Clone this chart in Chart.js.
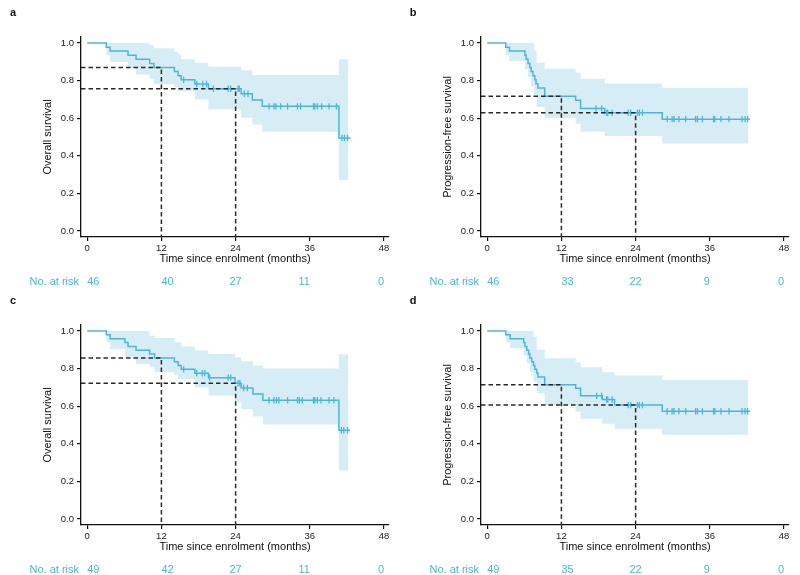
<!DOCTYPE html>
<html>
<head>
<meta charset="utf-8">
<script src="https://cdn.jsdelivr.net/npm/chart.js@4.4.1/dist/chart.umd.min.js"></script>
<style>
  body { margin: 0; background: #fff; }
  #grid { display: flex; flex-wrap: wrap; width: 800px; }
  canvas { display: block; }
</style>
</head>
<body>
<div id="grid">
  <canvas id="panelA" width="400" height="288"></canvas>
  <canvas id="panelB" width="400" height="288"></canvas>
  <canvas id="panelC" width="400" height="287"></canvas>
  <canvas id="panelD" width="400" height="287"></canvas>
</div>
<script>
// shared axes
var timeTicks = [0, 12, 24, 36, 48];
var survTicks = [0, 0.2, 0.4, 0.6, 0.8, 1.0];
var landmarkTimes = [12, 24];
var riskTimes = [0, 12, 24, 36, 48];

// a - overall survival
var timesA = [0, 3.1, 3.7, 6.6, 7.9, 10.1, 10.8, 14.1, 14.7, 15.2, 17.4, 19.6, 24.9, 26.7, 28.3, 40.7, 42.6];
var survA = [1, 0.978, 0.957, 0.935, 0.913, 0.891, 0.870, 0.848, 0.826, 0.804, 0.782, 0.757, 0.730, 0.697, 0.663, 0.495, 0.495];
var censorA = [15.6, 17.7, 18.7, 19.3, 20.4, 22.8, 23.2, 24.4, 24.6, 25.4, 26.0, 29.4, 30.2, 30.5, 31.3, 32.4, 34.0, 34.5, 36.6, 36.8, 37.2, 37.9, 39.1, 40.3, 41.2, 41.6, 42.1];
var bandTimesA = [3.1, 3.7, 6.6, 7.9, 10.1, 10.8, 14.1, 14.7, 15.2, 17.4, 19.6, 24.9, 26.7, 28.3, 40.7];
var bandUpperA = [1, 1, 1, 1, 0.988, 0.972, 0.955, 0.94, 0.913, 0.895, 0.874, 0.855, 0.83, 0.83, 0.913];
var bandLowerA = [0.935, 0.899, 0.866, 0.833, 0.81, 0.78, 0.765, 0.745, 0.745, 0.70, 0.647, 0.603, 0.567, 0.528, 0.27];
var bandEndA = 42.2;
var landmarkA = [0.870, 0.757];
var atRiskA = [46, 40, 27, 11, 0];

// b - progression-free survival
var timesB = [0, 3.0, 3.6, 6.1, 6.3, 6.6, 6.9, 7.1, 7.4, 7.7, 7.9, 8.2, 9.3, 14.3, 15.1, 19.0, 28.3, 42.5];
var survB = [1, 0.978, 0.957, 0.935, 0.913, 0.891, 0.870, 0.848, 0.826, 0.804, 0.783, 0.761, 0.717, 0.695, 0.652, 0.629, 0.595, 0.595];
var censorB = [17.6, 18.5, 19.3, 19.5, 20.2, 22.8, 23.2, 24.3, 24.6, 25.1, 29.1, 29.9, 30.2, 31.0, 32.1, 33.7, 34.0, 34.8, 36.6, 36.8, 37.8, 39.1, 41.2, 41.7, 42.1];
var bandTimesB = [3.0, 3.6, 6.1, 6.6, 7.1, 7.6, 8.0, 9.3, 14.3, 15.1, 19.0, 28.3];
var bandUpperB = [1, 1, 1, 1, 1, 0.96, 0.895, 0.863, 0.842, 0.81, 0.785, 0.762];
var bandLowerB = [0.935, 0.904, 0.86, 0.82, 0.77, 0.72, 0.66, 0.603, 0.57, 0.528, 0.505, 0.466];
var bandEndB = 42.2;
var landmarkB = [0.717, 0.629];
var atRiskB = [46, 33, 22, 9, 0];

// c - overall survival
var timesC = [0, 3.1, 3.7, 6.1, 6.6, 7.9, 10.1, 10.9, 14.1, 14.7, 15.2, 17.4, 19.6, 23.9, 24.9, 26.8, 28.4, 40.7, 42.5];
var survC = [1, 0.980, 0.959, 0.939, 0.918, 0.898, 0.878, 0.857, 0.837, 0.816, 0.796, 0.775, 0.752, 0.722, 0.697, 0.665, 0.632, 0.472, 0.472];
var censorC = [15.6, 17.7, 18.6, 19.0, 19.8, 22.8, 23.2, 24.4, 24.7, 25.3, 25.9, 29.4, 30.2, 30.6, 31.0, 32.4, 34.0, 34.3, 34.8, 36.6, 36.8, 37.2, 37.8, 39.1, 39.9, 41.1, 41.5, 42.1];
var bandTimesC = [3.1, 3.7, 6.1, 7.9, 10.1, 10.9, 14.1, 14.7, 15.2, 17.4, 19.6, 23.9, 24.9, 26.8, 28.4, 40.7];
var bandUpperC = [1, 1, 1, 1, 0.975, 0.963, 0.94, 0.94, 0.917, 0.896, 0.878, 0.86, 0.839, 0.816, 0.80, 0.876];
var bandLowerC = [0.94, 0.904, 0.86, 0.825, 0.81, 0.78, 0.765, 0.745, 0.745, 0.70, 0.657, 0.62, 0.585, 0.545, 0.503, 0.258];
var bandEndC = 42.2;
var landmarkC = [0.857, 0.722];
var atRiskC = [49, 42, 27, 11, 0];

// d - progression-free survival
var timesD = [0, 3.0, 3.7, 5.9, 6.1, 6.4, 6.7, 6.9, 7.2, 7.5, 7.7, 8.0, 8.2, 9.3, 14.3, 15.1, 18.6, 20.6, 28.3, 42.5];
var survD = [1, 0.980, 0.959, 0.939, 0.918, 0.898, 0.878, 0.857, 0.837, 0.816, 0.796, 0.776, 0.755, 0.714, 0.696, 0.655, 0.636, 0.606, 0.573, 0.573];
var censorD = [17.7, 18.5, 19.3, 19.5, 20.2, 22.8, 23.2, 24.3, 24.6, 25.1, 29.1, 29.9, 30.2, 31.0, 32.1, 33.7, 34.0, 34.8, 36.6, 36.8, 37.8, 39.1, 41.2, 41.7, 42.1];
var bandTimesD = [3.0, 3.7, 5.9, 6.4, 6.9, 7.5, 8.0, 9.3, 14.3, 15.1, 18.6, 20.6, 28.3];
var bandUpperD = [1, 1, 1, 1, 1, 0.97, 0.9, 0.855, 0.834, 0.807, 0.78, 0.763, 0.74];
var bandLowerD = [0.94, 0.91, 0.87, 0.83, 0.78, 0.73, 0.67, 0.604, 0.57, 0.533, 0.506, 0.48, 0.448];
var bandEndD = 42.2;
var landmarkD = [0.714, 0.606];
var atRiskD = [49, 35, 22, 9, 0];

var curveColor = '#4cb6d8';
var bandColor = '#d7edf6';
var riskAlign = ['left', 'left', 'center', 'right', 'right'];
var X_MIN = -1.0, X_MAX = 48.8, Y_MIN = -0.032, Y_MAX = 1.032;

Chart.defaults.font.family = "'Liberation Sans', Arial, sans-serif";
Chart.defaults.color = '#222';

var panels = [
  { id: 'panelA', letter: 'a', yTitle: 'Overall survival', times: timesA, surv: survA, censor: censorA,
    bandTimes: bandTimesA, bandUpper: bandUpperA, bandLower: bandLowerA, bandEnd: bandEndA, landmark: landmarkA, atRisk: atRiskA },
  { id: 'panelB', letter: 'b', yTitle: 'Progression-free survival', times: timesB, surv: survB, censor: censorB,
    bandTimes: bandTimesB, bandUpper: bandUpperB, bandLower: bandLowerB, bandEnd: bandEndB, landmark: landmarkB, atRisk: atRiskB },
  { id: 'panelC', letter: 'c', yTitle: 'Overall survival', times: timesC, surv: survC, censor: censorC,
    bandTimes: bandTimesC, bandUpper: bandUpperC, bandLower: bandLowerC, bandEnd: bandEndC, landmark: landmarkC, atRisk: atRiskC },
  { id: 'panelD', letter: 'd', yTitle: 'Progression-free survival', times: timesD, surv: survD, censor: censorD,
    bandTimes: bandTimesD, bandUpper: bandUpperD, bandLower: bandLowerD, bandEnd: bandEndD, landmark: landmarkD, atRisk: atRiskD }
];

// value of the step curve at time t
function stepValue(times, values, t) {
  var v = values[0];
  for (var i = 0; i < times.length; i++) {
    if (times[i] <= t) v = values[i];
  }
  return v;
}

// closed outline of the confidence band (upper edge left->right, lower edge back)
function bandOutline(p) {
  var pts = [];
  var n = p.bandTimes.length;
  for (var i = 0; i < n; i++) {
    var next = i + 1 < n ? p.bandTimes[i + 1] : p.bandEnd;
    pts.push({ x: p.bandTimes[i], y: p.bandUpper[i] });
    pts.push({ x: next, y: p.bandUpper[i] });
  }
  for (var j = n - 1; j >= 0; j--) {
    var nx = j + 1 < n ? p.bandTimes[j + 1] : p.bandEnd;
    pts.push({ x: nx, y: p.bandLower[j] });
    pts.push({ x: p.bandTimes[j], y: p.bandLower[j] });
  }
  return pts;
}

var riskTable = {
  id: 'riskTable',
  afterDraw: function (chart) {
    var p = chart.config.options.panel;
    var ctx = chart.ctx;
    var xs = chart.scales.x;
    ctx.save();
    ctx.textBaseline = 'middle';
    ctx.fillStyle = '#111';
    ctx.font = "bold 11px 'Liberation Sans', Arial, sans-serif";
    ctx.textAlign = 'center';
    ctx.fillText(p.letter, 13, 13);

    ctx.fillStyle = curveColor;
    ctx.font = "11px 'Liberation Sans', Arial, sans-serif";
    ctx.textAlign = 'right';
    ctx.fillText('No. at risk', chart.chartArea.left - 2, 282);
    for (var i = 0; i < riskTimes.length; i++) {
      ctx.textAlign = riskAlign[i];
      ctx.fillText(String(p.atRisk[i]), xs.getPixelForValue(riskTimes[i]), 282);
    }
    ctx.restore();
  }
};

panels.forEach(function (p) {
  var canvas = document.getElementById(p.id);
  var curve = p.times.map(function (t, i) { return { x: t, y: p.surv[i] }; });
  var marks = p.censor.map(function (t) { return { x: t, y: stepValue(p.times, p.surv, t) }; });
  var datasets = [
    { data: bandOutline(p), fill: 'shape', backgroundColor: bandColor, borderColor: 'transparent',
      borderWidth: 0, pointRadius: 0, order: 5 },
    { data: curve, stepped: true, fill: false, borderColor: curveColor, borderWidth: 1.5, pointRadius: 0, order: 3 },
    { data: marks, showLine: false, pointStyle: 'line', pointRotation: 90, pointRadius: 3.2,
      pointBorderColor: curveColor, pointBorderWidth: 1.3, order: 2 }
  ];
  landmarkTimes.forEach(function (t, k) {
    datasets.push({
      data: [{ x: X_MIN, y: p.landmark[k] }, { x: t, y: p.landmark[k] }, { x: t, y: Y_MIN }],
      fill: false, borderColor: '#2a2a2a', borderWidth: 1.5, borderDash: [4.5, 3], pointRadius: 0, order: 1
    });
  });

  new Chart(canvas, {
    type: 'line',
    data: { datasets: datasets },
    options: {
      panel: p,
      responsive: false,
      animation: false,
      events: [],
      layout: { padding: { left: 41, top: 37, right: 11, bottom: canvas.height - 237 - 29 } },
      plugins: { legend: { display: false }, tooltip: { enabled: false } },
      scales: {
        x: {
          type: 'linear', min: X_MIN, max: X_MAX,
          afterBuildTicks: function (s) { s.ticks = timeTicks.map(function (v) { return { value: v }; }); },
          afterFit: function (s) { s.height = 29; },
          ticks: { font: { size: 9.5 }, color: '#222', padding: 2, maxRotation: 0, autoSkip: false,
                   callback: function (v) { return String(v); } },
          grid: { drawOnChartArea: false, drawTicks: true, tickLength: 4, color: '#111', lineWidth: 1.2 },
          border: { display: true, color: '#111', width: 1.3 },
          title: { display: true, text: 'Time since enrolment (months)', font: { size: 11 }, color: '#111',
                   padding: { top: 0, bottom: 0 } }
        },
        y: {
          type: 'linear', min: Y_MIN, max: Y_MAX,
          afterBuildTicks: function (s) { s.ticks = survTicks.map(function (v) { return { value: v }; }); },
          afterFit: function (s) { s.width = 40; },
          ticks: { font: { size: 9.5 }, color: '#222', padding: 3,
                   callback: function (v) { return Number(v).toFixed(1); } },
          grid: { drawOnChartArea: false, drawTicks: true, tickLength: 4, color: '#111', lineWidth: 1.2 },
          border: { display: true, color: '#111', width: 1.3 },
          title: { display: true, text: p.yTitle, font: { size: 11 }, color: '#111',
                   padding: { top: 0, bottom: 0 } }
        }
      }
    },
    plugins: [riskTable]
  });
});
</script>
</body>
</html>
